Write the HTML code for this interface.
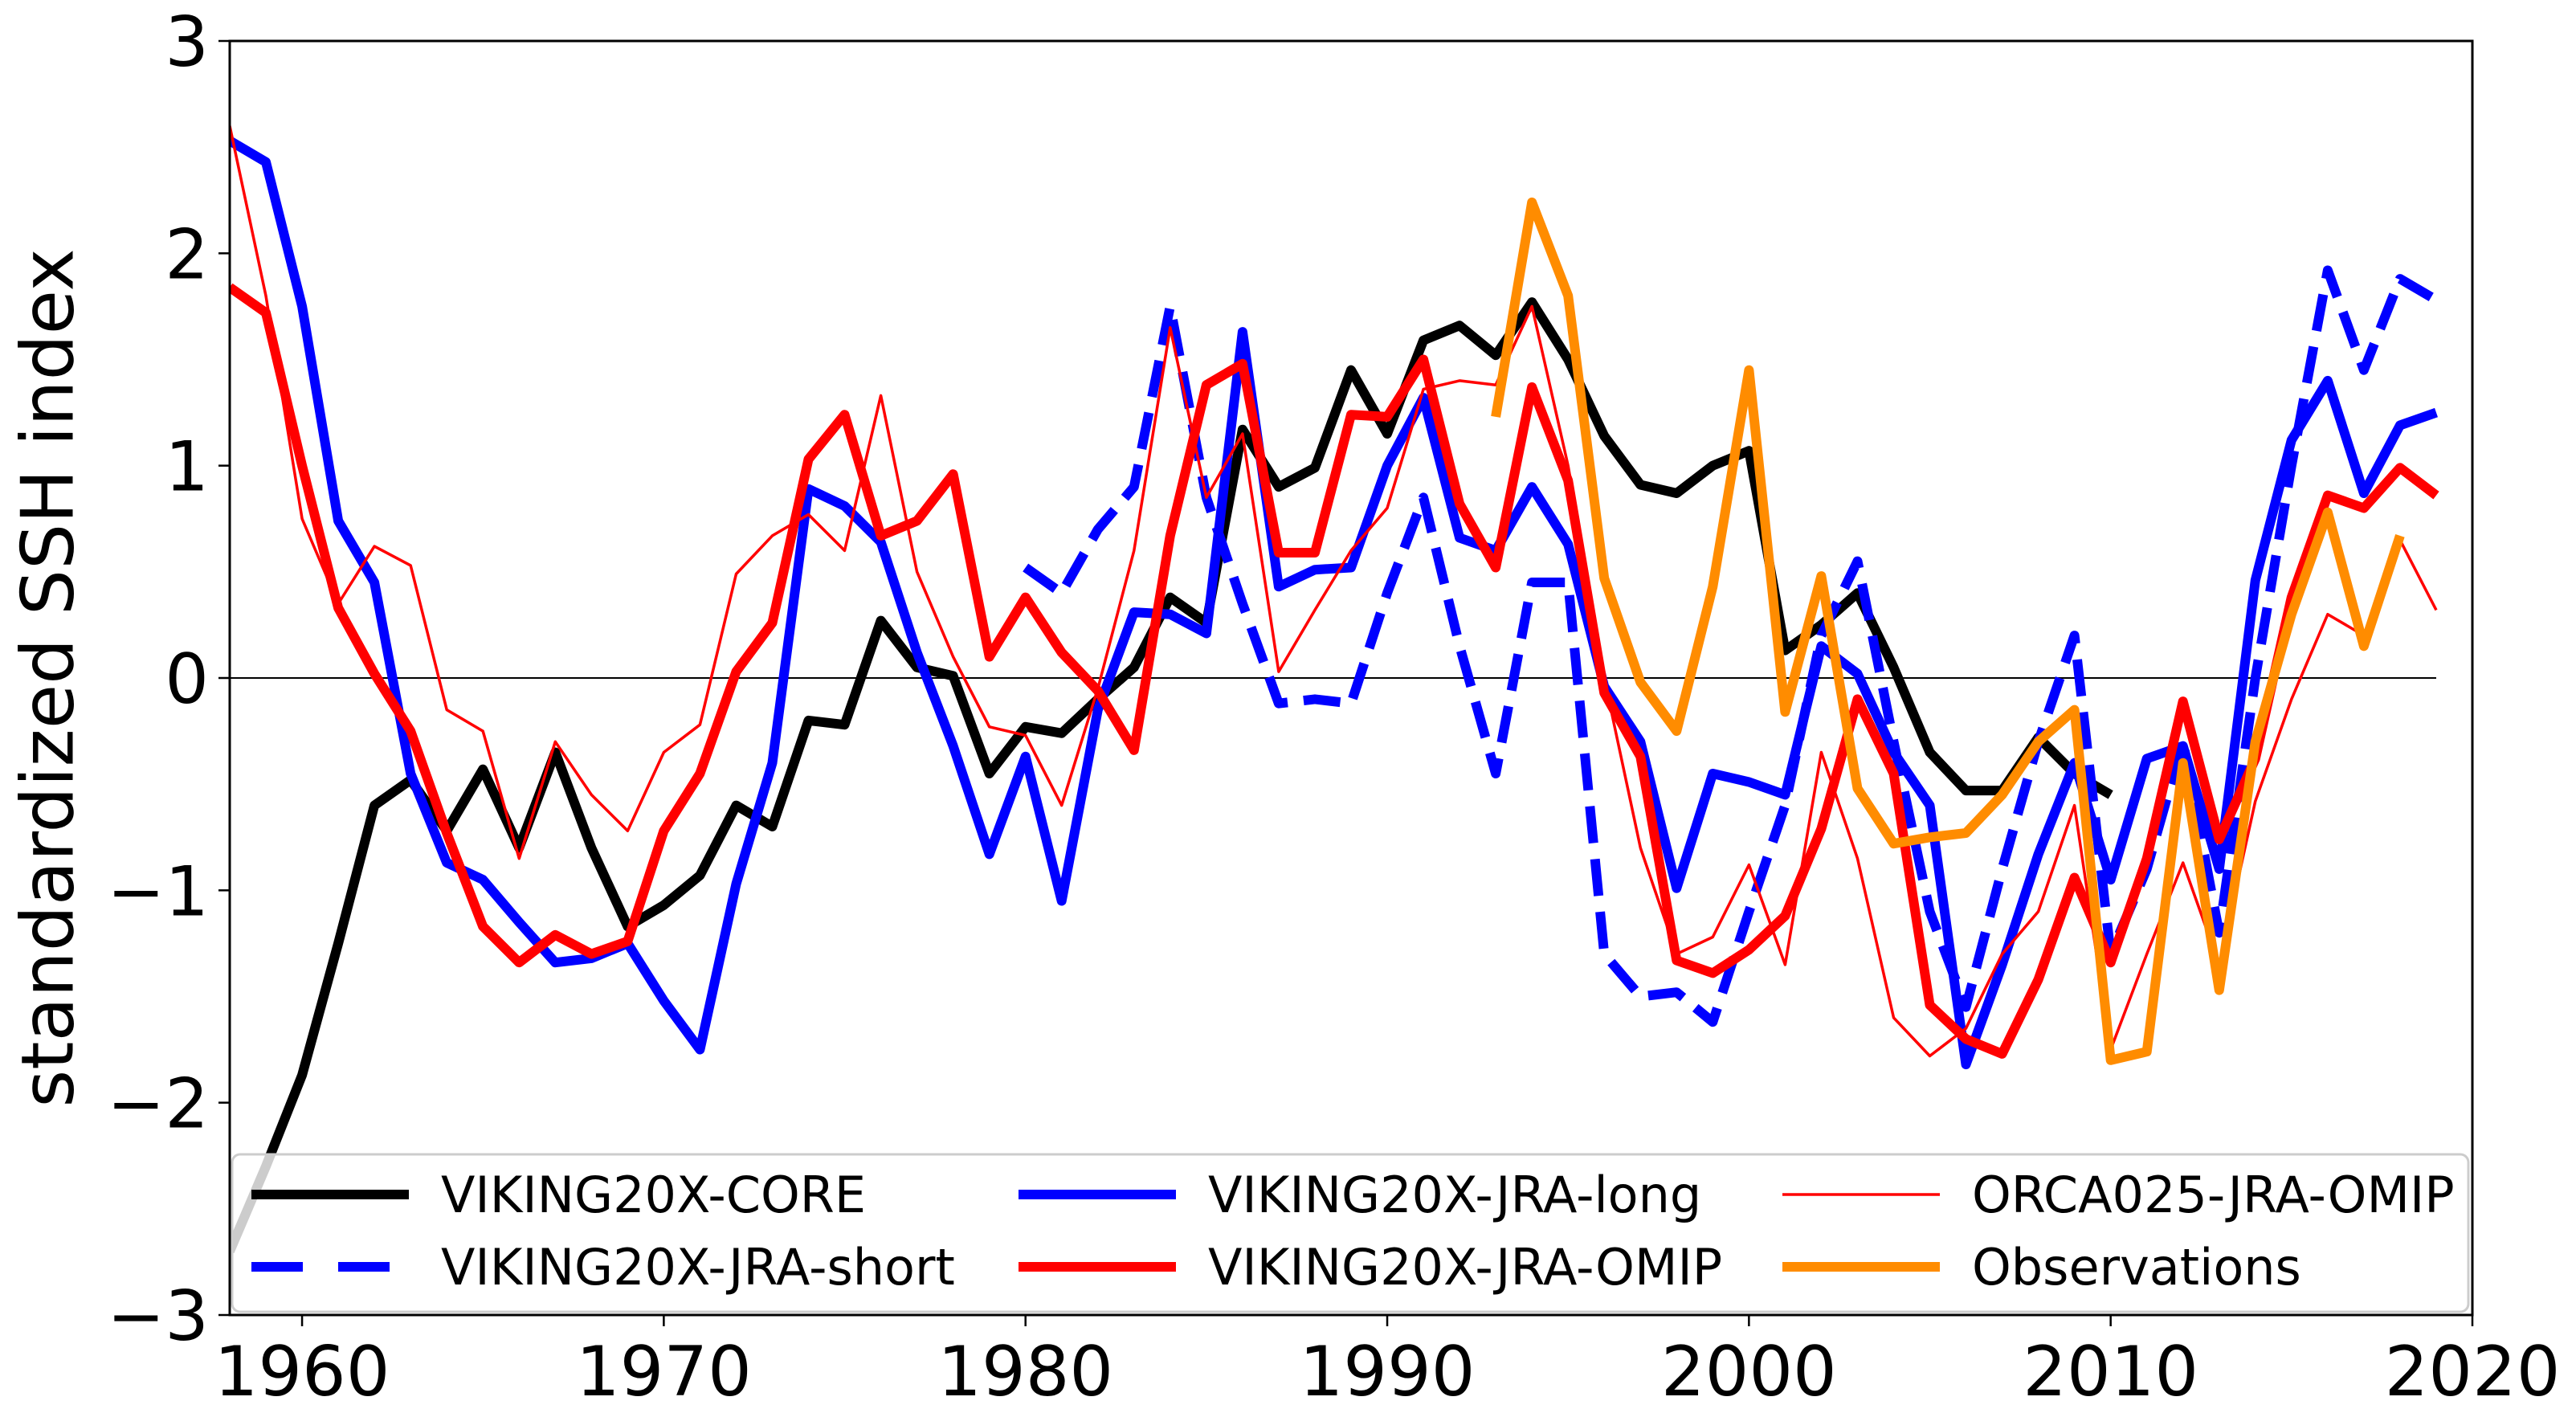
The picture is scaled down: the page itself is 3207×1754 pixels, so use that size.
<!DOCTYPE html>
<html><head><meta charset="utf-8"><style>
html,body{margin:0;padding:0;background:#fff;}
svg{display:block;font-family:"DejaVu Sans","Liberation Sans",sans-serif;}
</style></head><body>
<svg id="chart" width="3207" height="1754" viewBox="0 0 3207 1754">
<defs><clipPath id="plotclip"><rect x="286" y="51" width="2792" height="1586"/></clipPath></defs>
<g id="series" clip-path="url(#plotclip)"></g>
<rect x="286" y="51" width="2792" height="1586" fill="none" stroke="#000" stroke-width="3"/>
<g id="axes"></g>
<text x="60" y="844" font-size="90" text-anchor="middle" transform="rotate(-90 60 844)" dominant-baseline="central">standardized SSH index</text>
<g id="legend">
<rect x="289" y="1437" width="2784" height="196" rx="10" fill="rgba(255,255,255,0.8)" stroke="#ccc" stroke-width="3"/>
</g>
</svg>
<script>
const NS='http://www.w3.org/2000/svg';
const X0=1958, X1=2020, Y0=-3, Y1=3;
const PL=286, PR=3078, PT=51, PB=1637;
function xs(v){return PL+(v-X0)/(X1-X0)*(PR-PL);}
function ys(v){return PB-(v-Y0)/(Y1-Y0)*(PB-PT);}

const xTicks=[1960,1970,1980,1990,2000,2010,2020];
const yTicks=[-3,-2,-1,0,1,2,3];

const coreStart=1958;
const coreVals=[-2.7,-2.3,-1.87,-1.25,-0.6,-0.48,-0.72,-0.43,-0.8,-0.35,-0.8,-1.17,-1.07,-0.93,-0.6,-0.7,-0.2,-0.22,0.27,0.05,0.01,-0.45,-0.23,-0.26,-0.1,0.05,0.38,0.26,1.17,0.9,0.99,1.45,1.15,1.59,1.66,1.52,1.77,1.5,1.14,0.91,0.87,1.0,1.07,0.13,0.25,0.4,0.05,-0.35,-0.53,-0.53,-0.28,-0.45,-0.55];
const shortStart=1980;
const shortVals=[0.52,0.4,0.7,0.9,1.75,0.85,0.35,-0.12,-0.1,-0.12,0.4,0.85,0.15,-0.45,0.45,0.45,-1.3,-1.5,-1.48,-1.62,-1.1,-0.6,0.2,0.55,-0.3,-1.1,-1.55,-0.9,-0.3,0.2,-1.3,-0.9,-0.3,-1.2,0.0,1.0,1.92,1.45,1.88,1.78];
const longStart=1958;
const longVals=[2.53,2.43,1.75,0.74,0.45,-0.45,-0.87,-0.95,-1.15,-1.34,-1.32,-1.25,-1.52,-1.75,-0.97,-0.4,0.89,0.81,0.64,0.12,-0.32,-0.83,-0.37,-1.05,-0.15,0.31,0.3,0.21,1.63,0.43,0.51,0.52,1.0,1.32,0.66,0.6,0.9,0.63,-0.04,-0.3,-0.99,-0.45,-0.49,-0.55,0.15,0.02,-0.35,-0.6,-1.82,-1.35,-0.83,-0.4,-0.95,-0.38,-0.32,-0.9,0.46,1.12,1.4,0.87,1.19,1.25];
const omipStart=1958;
const omipVals=[1.84,1.72,1.0,0.33,0.02,-0.25,-0.73,-1.17,-1.34,-1.21,-1.3,-1.24,-0.72,-0.45,0.03,0.26,1.03,1.24,0.67,0.74,0.96,0.1,0.38,0.12,-0.06,-0.34,0.67,1.38,1.48,0.59,0.59,1.24,1.23,1.5,0.82,0.52,1.37,0.93,-0.07,-0.37,-1.33,-1.39,-1.28,-1.12,-0.71,-0.1,-0.45,-1.54,-1.7,-1.77,-1.42,-0.94,-1.34,-0.85,-0.11,-0.76,-0.38,0.38,0.86,0.8,0.99,0.86];
const orcaStart=1958;
const orcaVals=[2.6,1.8,0.75,0.35,0.62,0.53,-0.15,-0.25,-0.85,-0.3,-0.55,-0.72,-0.35,-0.22,0.49,0.67,0.77,0.6,1.33,0.5,0.1,-0.23,-0.27,-0.6,-0.05,0.6,1.65,0.85,1.15,0.03,0.32,0.6,0.8,1.36,1.4,1.38,1.75,1.0,0.0,-0.8,-1.3,-1.22,-0.88,-1.35,-0.35,-0.85,-1.6,-1.78,-1.65,-1.3,-1.1,-0.6,-1.75,-1.3,-0.87,-1.35,-0.58,-0.1,0.3,0.2,0.65,0.32];
const obsStart=1993;
const obsVals=[1.23,2.24,1.8,0.47,-0.02,-0.25,0.43,1.45,-0.16,0.48,-0.52,-0.78,-0.75,-0.73,-0.55,-0.3,-0.15,-1.8,-1.76,-0.4,-1.47,-0.3,0.3,0.78,0.15,0.67];

const seriesG=document.getElementById('series');
const axesG=document.getElementById('axes');
const legendG=document.getElementById('legend');

const zl=document.createElementNS(NS,'line');
zl.setAttribute('x1',xs(X0));zl.setAttribute('x2',xs(2019));
zl.setAttribute('y1',ys(0));zl.setAttribute('y2',ys(0));
zl.setAttribute('stroke','#000');zl.setAttribute('stroke-width','2');


seriesG.appendChild(zl);

function drawLine(start,vals,color,w,dash,name){
  const p=document.createElementNS(NS,'polyline');
  p.setAttribute('points',vals.map((v,i)=>xs(start+i).toFixed(1)+','+ys(v).toFixed(1)).join(' '));
  p.setAttribute('fill','none');p.setAttribute('stroke',color);p.setAttribute('stroke-width',w);
  p.setAttribute('stroke-linejoin','round');
  if(dash)p.setAttribute('stroke-dasharray',dash);
  
  
  seriesG.appendChild(p);
}
drawLine(coreStart,coreVals,'#000',12,null,'line-viking20x-core');
drawLine(shortStart,shortVals,'#0000ff',12,'46,20','line-viking20x-jra-short');
drawLine(longStart,longVals,'#0000ff',12,null,'line-viking20x-jra-long');
drawLine(omipStart,omipVals,'#ff0000',12,null,'line-viking20x-jra-omip');
drawLine(orcaStart,orcaVals,'#ff0000',3.5,null,'line-orca025-jra-omip');
drawLine(obsStart,obsVals,'#ff8c00',12,null,'line-observations');

xTicks.forEach(t=>{
  const x=xs(t);
  const l=document.createElementNS(NS,'line');
  l.setAttribute('x1',x);l.setAttribute('x2',x);l.setAttribute('y1',PB);l.setAttribute('y2',PB+14);
  l.setAttribute('stroke','#000');l.setAttribute('stroke-width','2.5');
  
  
  axesG.appendChild(l);
  const tx=document.createElementNS(NS,'text');
  tx.setAttribute('x',x);tx.setAttribute('y',PB+100);tx.setAttribute('font-size','86');tx.setAttribute('text-anchor','middle');
  tx.textContent=t;
  
  
  axesG.appendChild(tx);
});
yTicks.forEach(t=>{
  const y=ys(t);
  const l=document.createElementNS(NS,'line');
  l.setAttribute('x1',PL-14);l.setAttribute('x2',PL);l.setAttribute('y1',y);l.setAttribute('y2',y);
  l.setAttribute('stroke','#000');l.setAttribute('stroke-width','2.5');
  
  
  axesG.appendChild(l);
  const tx=document.createElementNS(NS,'text');
  tx.setAttribute('x',PL-26);tx.setAttribute('y',y+31);tx.setAttribute('font-size','86');tx.setAttribute('text-anchor','end');
  tx.textContent=(t<0?'\u2212'+(-t):String(t));
  
  
  axesG.appendChild(tx);
});

const legItems=[
 ['VIKING20X-CORE','#000',12,null,313,1487],
 ['VIKING20X-JRA-short','#0000ff',12,'64,44',313,1577],
 ['VIKING20X-JRA-long','#0000ff',12,null,1268,1487],
 ['VIKING20X-JRA-OMIP','#ff0000',12,null,1268,1577],
 ['ORCA025-JRA-OMIP','#ff0000',3.5,null,2219,1487],
 ['Observations','#ff8c00',12,null,2219,1577]
];
legItems.forEach(it=>{
  const g=document.createElementNS(NS,'g');
  
  
  const l=document.createElementNS(NS,'line');
  l.setAttribute('x1',it[4]);l.setAttribute('x2',it[4]+196);l.setAttribute('y1',it[5]);l.setAttribute('y2',it[5]);
  l.setAttribute('stroke',it[1]);l.setAttribute('stroke-width',it[2]);
  if(it[3])l.setAttribute('stroke-dasharray',it[3]);
  
  
  g.appendChild(l);
  const t=document.createElementNS(NS,'text');
  t.setAttribute('x',it[4]+236);t.setAttribute('y',it[5]+22);t.setAttribute('font-size','62');
  t.textContent=it[0];
  
  
  g.appendChild(t);
  legendG.appendChild(g);
});
</script>
</body></html>
